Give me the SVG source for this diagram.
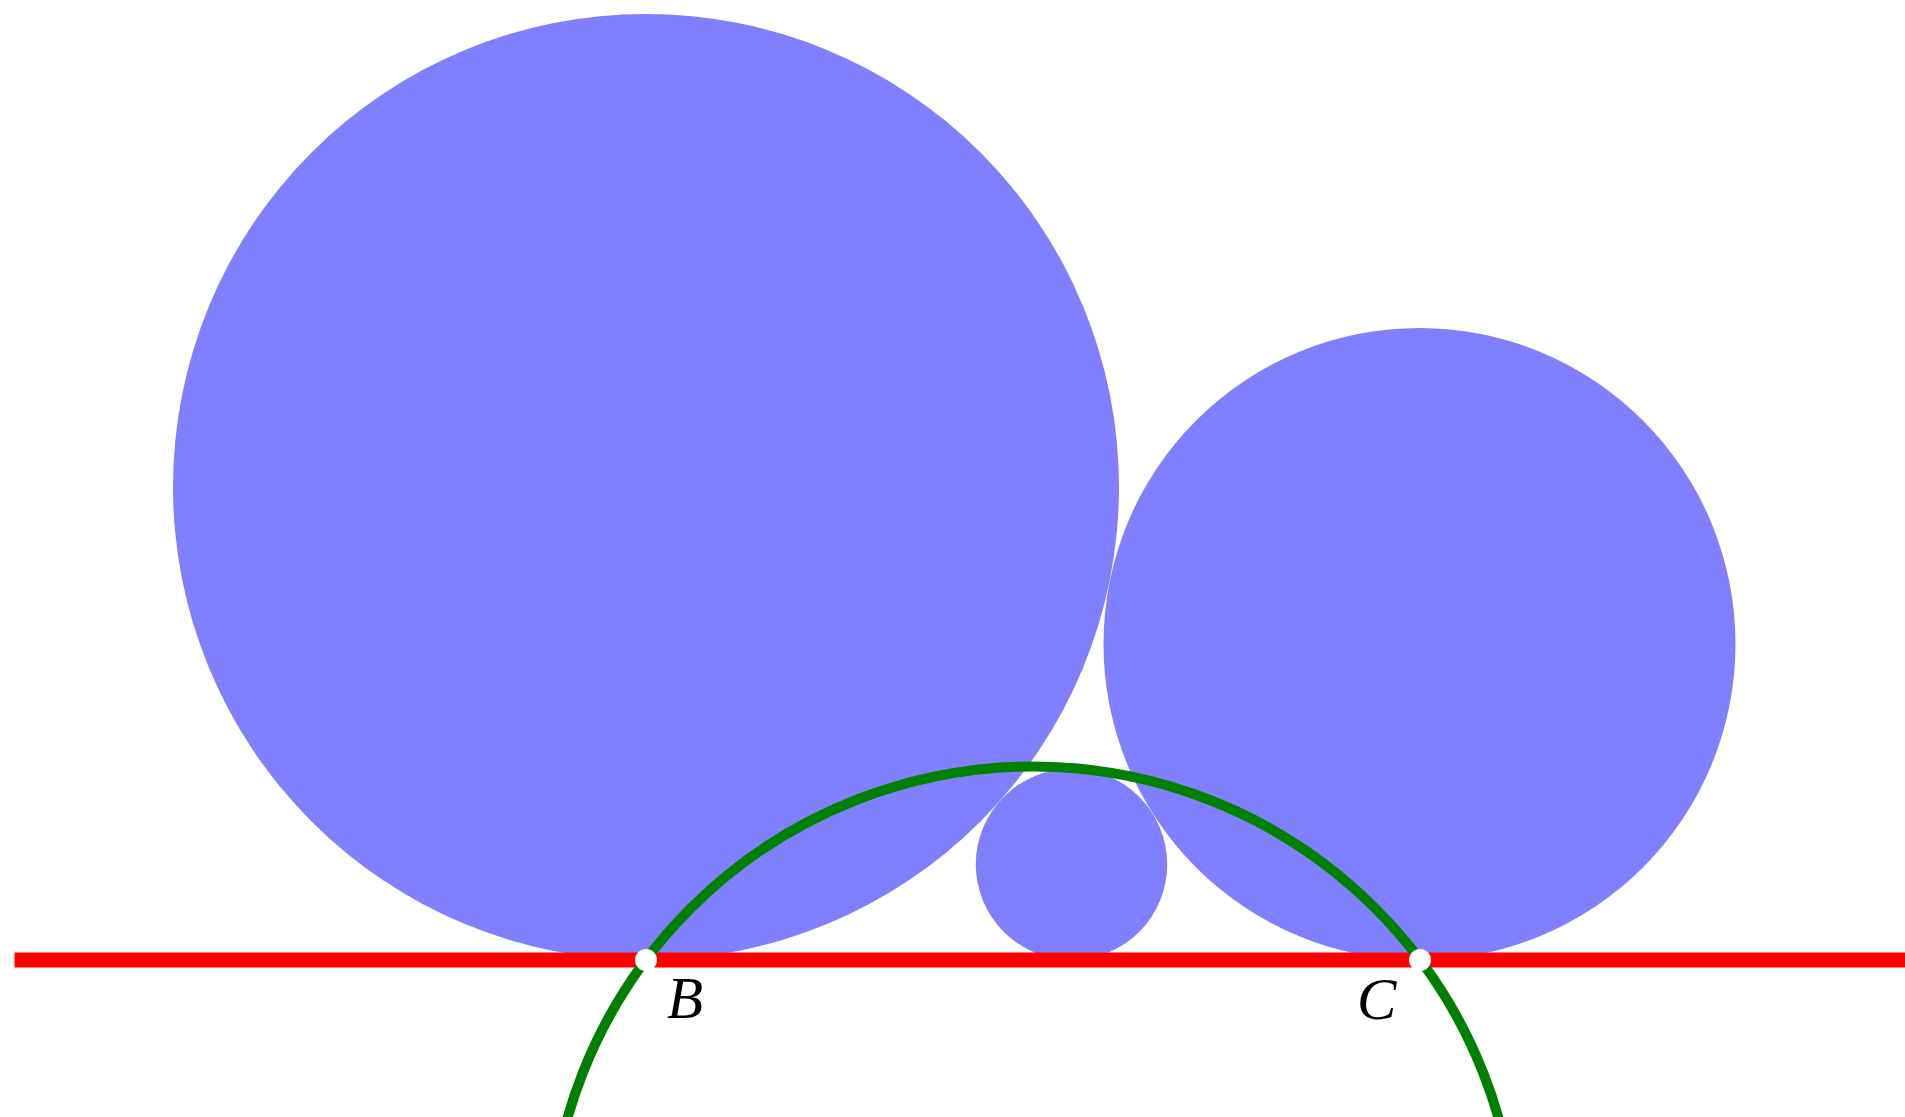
<svg xmlns="http://www.w3.org/2000/svg" width="1905" height="1117" viewBox="0 0 1905 1117">
<style>
.disk{fill:#8080ff;stroke:none}
.lbl{font-family:"Liberation Serif","DejaVu Serif",serif;font-style:italic;font-size:59px;fill:#000}
.pt{fill:#fff;stroke:none}
</style>
<rect width="1905" height="1117" fill="#fff"/>
<g id="circle-big"><circle class="disk" cx="646" cy="487" r="473"/></g>
<g id="circle-right"><circle class="disk" cx="1419.5" cy="644" r="316"/></g>
<g id="circle-small"><circle class="disk" cx="1071.5" cy="864.3" r="95.7"/></g>
<g id="connectors">
<line x1="14.5" y1="960" x2="1905" y2="960" stroke="#ff0000" stroke-width="15"/>
<circle cx="1033" cy="1250.5" r="484" fill="none" stroke="#008000" stroke-width="10"/>
</g>
<g id="B"><circle class="pt" cx="646" cy="960" r="11"/><text class="lbl" x="667" y="1018">B</text></g>
<g id="C"><circle class="pt" cx="1420" cy="960" r="11"/><text class="lbl" x="1357" y="1019">C</text></g>
</svg>
